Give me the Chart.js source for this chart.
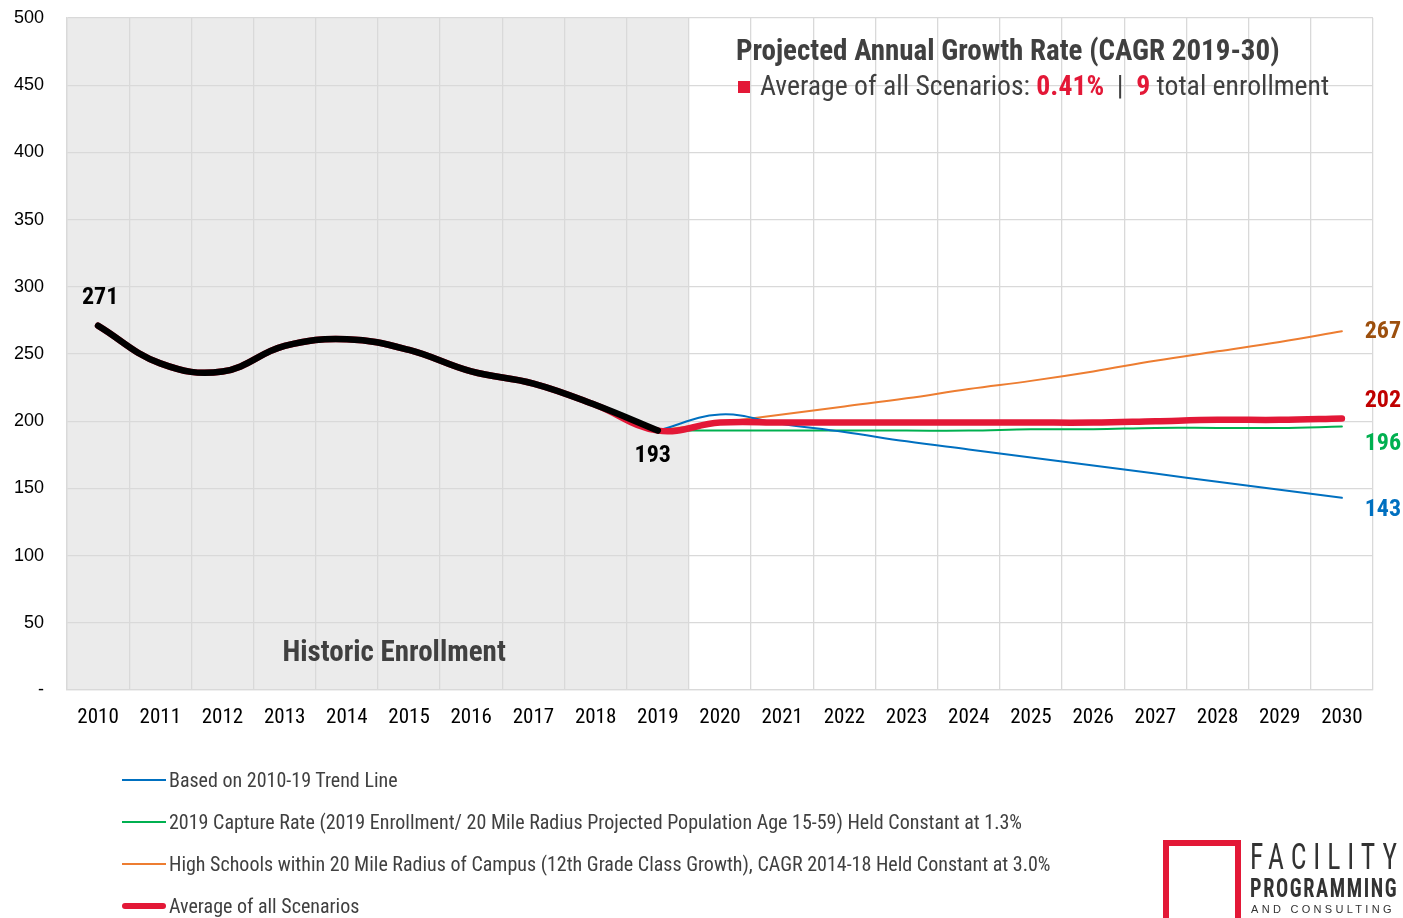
<!DOCTYPE html>
<html>
<head>
<meta charset="utf-8">
<script src="https://cdn.jsdelivr.net/npm/chart.js@4.4.1/dist/chart.umd.min.js"></script>
<style>
  body { margin: 0; background: #fff; }
  #wrap { position: relative; width: 1403px; height: 918px; overflow: hidden; }
  #chart { position: absolute; left: 0; top: 0; }
  .narrow { font-family: "Liberation Sans Narrow", "Arial Narrow", "Roboto Condensed", sans-serif; }
  #title { position: absolute; left: 736px; top: 32px; color: #404040; white-space: nowrap; }
  #title .l1 { font-weight: bold; font-size: 29px; line-height: 36px; }
  #title .l2 { font-size: 27.7px; line-height: 36px; }
  #title .sq { display: inline-block; width: 12px; height: 12px; background: #e31837; margin: 0 10px 0 2px; vertical-align: 2px; }
  #title .hl { color: #e31837; font-weight: bold; }
  #legend { position: absolute; left: 122px; top: 759px; color: #404040; font-size: 20px; }
  .lg-row { height: 42px; display: flex; align-items: center; white-space: nowrap; }
  .lg-line { width: 44px; margin-right: 3px; }
  #logo { position: absolute; left: 1163px; top: 838px; width: 240px; height: 80px; }
  #logo .box { position: absolute; left: 0px; top: 2px; width: 78px; height: 80px; border: 6px solid #e31837; border-bottom: none; box-sizing: border-box; }
  #logo .t { position: absolute; color: #333; white-space: nowrap; transform-origin: 0 0; }
  #logo .t1 { left: 87px; top: -2px; font-size: 36px; letter-spacing: 9px; transform: scaleX(0.77); }
  #logo .t2 { left: 87px; top: 36px; font-size: 25px; letter-spacing: 2px; font-weight: bold; transform: scaleX(0.81); }
  #logo .t3 { left: 88px; top: 65px; font-size: 11px; letter-spacing: 3.3px; font-family: "Liberation Sans", Arial, sans-serif; }
</style>
</head>
<body>
<div id="wrap">
  <canvas id="chart" width="1403" height="918"></canvas>
  <div id="title" class="narrow">
    <div class="l1">Projected Annual Growth Rate (CAGR 2019-30)</div>
    <div class="l2"><span class="sq"></span>Average of all Scenarios: <span class="hl">0.41%</span> &nbsp;|&nbsp; <span class="hl">9</span> total enrollment</div>
  </div>
  <div id="legend" class="narrow"></div>
  <div id="logo" class="narrow">
    <div class="box"></div>
    <div class="t t1">FACILITY</div>
    <div class="t t2">PROGRAMMING</div>
    <div class="t t3">AND CONSULTING</div>
  </div>
</div>
<script>
  const YEARS = ["2010", "2011", "2012", "2013", "2014", "2015", "2016", "2017", "2018", "2019",
    "2020", "2021", "2022", "2023", "2024", "2025", "2026", "2027", "2028", "2029", "2030"];

  const HISTORIC = [271, 243, 237, 256, 261, 253, 237, 228, 212, 193,
    null, null, null, null, null, null, null, null, null, null, null];
  const TREND_LINE = [null, null, null, null, null, null, null, null, null, 193,
    205, 198, 192, 185, 179, 173, 167, 161, 155, 149, 143];
  const CAPTURE_RATE = [null, null, null, null, null, null, null, null, null, 193,
    193, 193, 193, 193, 193, 194, 194, 195, 195, 195, 196];
  const HIGH_SCHOOLS = [null, null, null, null, null, null, null, null, null, 193,
    199, 205, 211, 217, 224, 230, 237, 245, 252, 259, 267];
  const AVERAGE = [271, 243, 237, 256, 261, 253, 237, 228, 212, 193,
    199, 199, 199, 199, 199, 199, 199, 200, 201, 201, 202];

  const Y_TICKS = [0, 50, 100, 150, 200, 250, 300, 350, 400, 450, 500];
  const HISTORIC_COUNT = 10;

  const NARROW = '"Liberation Sans Narrow", "Arial Narrow", "Roboto Condensed", sans-serif';

  const datasets = [
    { label: "Historic", data: HISTORIC, borderColor: "#000000", borderWidth: 6.5 },
    { label: "Average of all Scenarios", data: AVERAGE, borderColor: "#e31837", borderWidth: 6.5 },
    { label: "Based on 2010-19 Trend Line", data: TREND_LINE, borderColor: "#0070c0", borderWidth: 2 },
    { label: "2019 Capture Rate (2019 Enrollment/ 20 Mile Radius Projected Population Age 15-59) Held Constant at 1.3%", data: CAPTURE_RATE, borderColor: "#00b050", borderWidth: 2 },
    { label: "High Schools within 20 Mile Radius of Campus (12th Grade Class Growth), CAGR 2014-18 Held Constant at 3.0%", data: HIGH_SCHOOLS, borderColor: "#ed7d31", borderWidth: 2 },
  ].map((d) => Object.assign(d, {
    pointRadius: 0, tension: 0.4, fill: false, spanGaps: false,
    borderCapStyle: "round", borderJoinStyle: "round",
  }));

  const LEGEND_ORDER = [2, 3, 4, 1];

  // value labels: dataset index, point index, color, offsets
  const VALUE_LABELS = [
    { ds: 0, i: 0, color: "#000000", dx: 2, dy: -28 },
    { ds: 0, i: 9, color: "#000000", dx: -5, dy: 25 },
    { ds: 4, i: 20, color: "#9c4f0d", dx: 41, dy: 1 },
    { ds: 1, i: 20, color: "#c00000", dx: 41, dy: -18 },
    { ds: 3, i: 20, color: "#00b050", dx: 41, dy: 17 },
    { ds: 2, i: 20, color: "#0070c0", dx: 41, dy: 12 },
  ];

  const shadePlugin = {
    id: "historicShade",
    beforeDraw(chart) {
      const { ctx, chartArea, scales } = chart;
      const x = scales.x;
      const edge = (x.getPixelForValue(HISTORIC_COUNT - 1) + x.getPixelForValue(HISTORIC_COUNT)) / 2;
      ctx.save();
      ctx.fillStyle = "#ebebeb";
      ctx.fillRect(chartArea.left, chartArea.top, edge - chartArea.left, chartArea.bottom - chartArea.top);
      ctx.restore();
    },
  };

  const labelPlugin = {
    id: "valueLabels",
    afterDatasetsDraw(chart) {
      const { ctx, scales } = chart;
      ctx.save();
      ctx.textAlign = "center";
      ctx.textBaseline = "middle";
      ctx.font = "bold 24px " + NARROW;
      VALUE_LABELS.forEach((l) => {
        const pt = chart.getDatasetMeta(l.ds).data[l.i];
        const v = chart.data.datasets[l.ds].data[l.i];
        ctx.fillStyle = l.color;
        ctx.fillText(String(v), pt.x + l.dx, pt.y + l.dy);
      });
      const step = scales.x.getPixelForValue(1) - scales.x.getPixelForValue(0);
      ctx.font = "bold 29px " + NARROW;
      ctx.fillStyle = "#404040";
      ctx.fillText("Historic Enrollment", scales.x.getPixelForValue(4) + 0.76 * step, scales.y.getPixelForValue(27));
      ctx.restore();
    },
  };

  const chart = new Chart(document.getElementById("chart"), {
    type: "line",
    data: { labels: YEARS, datasets },
    plugins: [shadePlugin, labelPlugin],
    options: {
      responsive: false,
      animation: false,
      layout: { padding: { left: 0, right: 30, top: 18, bottom: 0 } },
      plugins: { legend: { display: false }, tooltip: { enabled: false } },
      scales: {
        x: {
          offset: true,
          grid: { offset: true, color: "#d9d9d9", lineWidth: 1.3, drawTicks: false },
          border: { color: "#d9d9d9", width: 1.3 },
          ticks: { color: "#000", font: { family: NARROW, size: 21 }, padding: 15, maxRotation: 0, autoSkip: false },
          afterFit(s) { s.height = 228; },
        },
        y: {
          min: Y_TICKS[0],
          max: Y_TICKS[Y_TICKS.length - 1],
          afterBuildTicks(s) { s.ticks = Y_TICKS.map((v) => ({ value: v })); },
          grid: { color: "#d9d9d9", lineWidth: 1.3, drawTicks: false },
          border: { color: "#d9d9d9", width: 1.3 },
          ticks: {
            color: "#000",
            font: { family: '"Liberation Sans", Arial, sans-serif', size: 18 },
            padding: 23,
            callback: (v) => (v === 0 ? "-" : v),
          },
          afterFit(s) { s.width = 67; s.paddingTop = 10; s.paddingBottom = 10; },
        },
      },
    },
  });

  const legend = document.getElementById("legend");
  LEGEND_ORDER.forEach((idx) => {
    const ds = chart.data.datasets[idx];
    const row = document.createElement("div");
    row.className = "lg-row";
    const line = document.createElement("span");
    line.className = "lg-line";
    line.style.height = ds.borderWidth + "px";
    line.style.background = ds.borderColor;
    line.style.borderRadius = ds.borderWidth > 3 ? ds.borderWidth / 2 + "px" : "0";
    const txt = document.createElement("span");
    txt.textContent = ds.label;
    row.appendChild(line);
    row.appendChild(txt);
    legend.appendChild(row);
  });
</script>
</body>
</html>
